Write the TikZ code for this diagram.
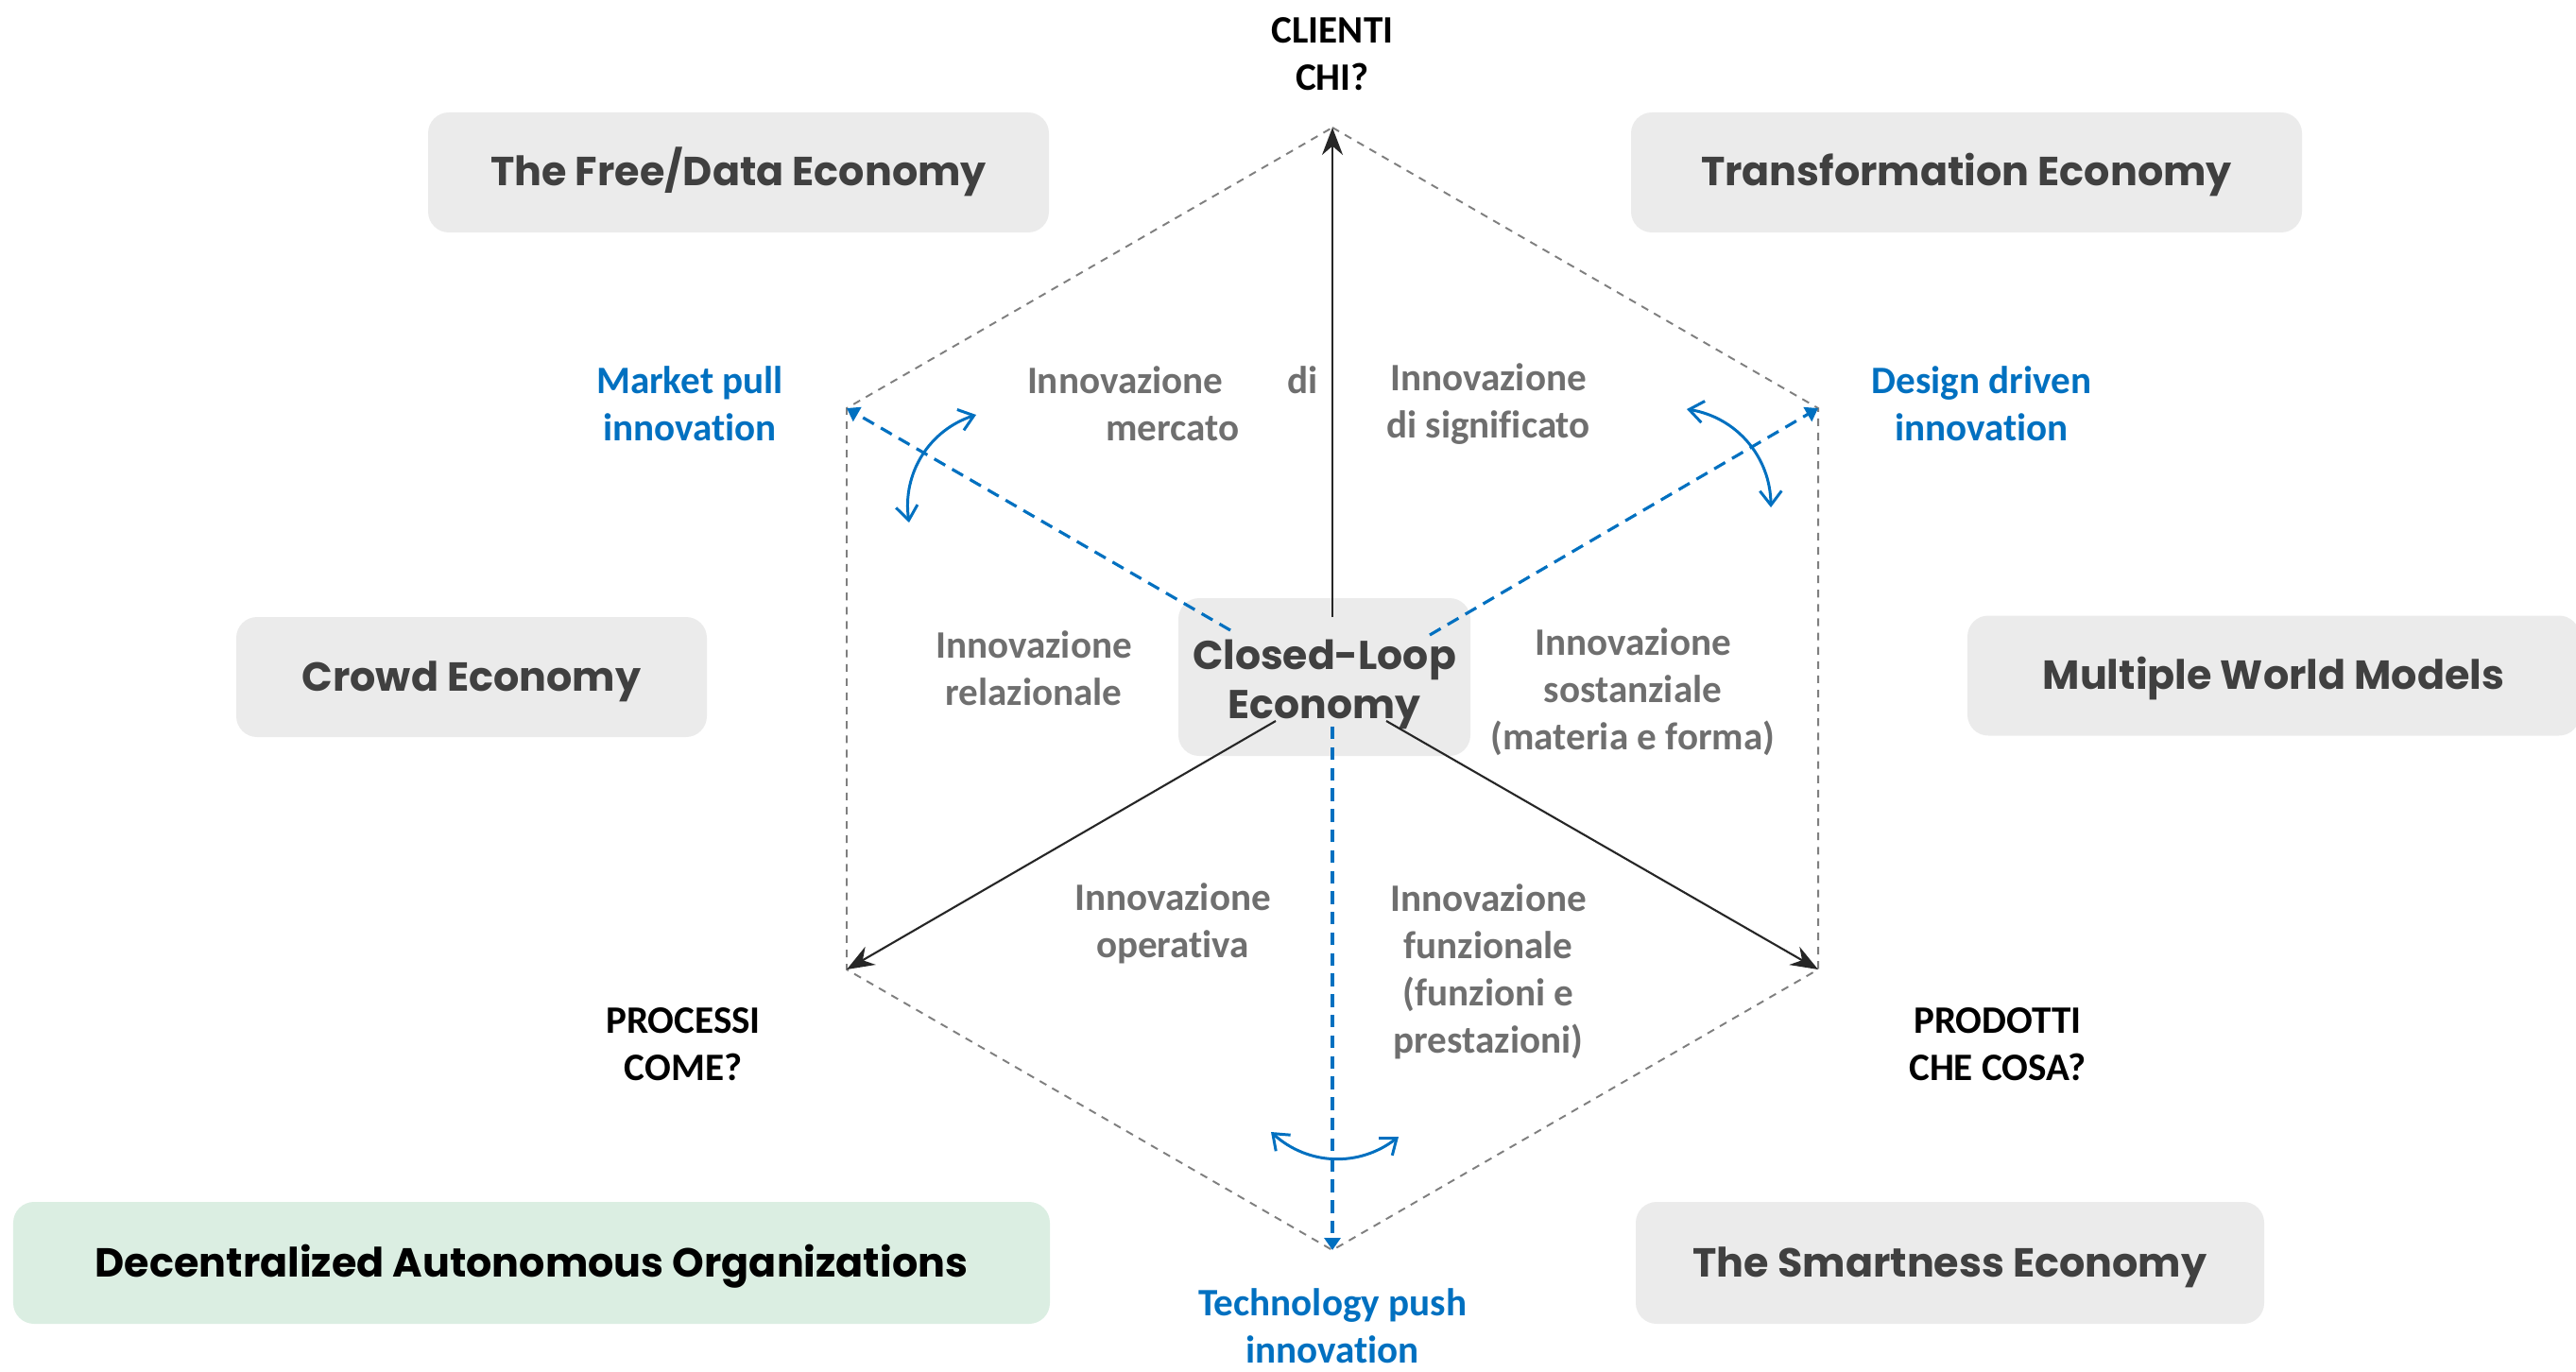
\documentclass[tikz,border=0pt]{standalone}
\usepackage{fontspec}
\setmainfont{Carlito}[Ligatures=NoCommon]
\newfontfamily\econfont{Poppins}
\usepackage{tikz}
\usetikzlibrary{arrows.meta}
\definecolor{econfill}{HTML}{EBEBEB}
\definecolor{daofill}{HTML}{DBEEE2}
\definecolor{econtext}{HTML}{404040}
\definecolor{innovgray}{HTML}{6F6F6F}
\definecolor{driveblue}{HTML}{0070C0}
\definecolor{hexgray}{HTML}{7F7F7F}
\definecolor{axisblack}{HTML}{262626}
\tikzset{
  econ/.style={fill=econfill, rounded corners=0.22cm, minimum height=1.27cm, text=econtext,
    text height=0.38cm, text depth=0.09cm,
    font=\econfont\bfseries\fontsize{12.2}{15}\selectfont},
  innov/.style={text=innovgray, align=center, font=\bfseries\fontsize{11.7}{14.2}\selectfont},
  axislbl/.style={text=black, align=center, font=\bfseries\fontsize{11.7}{14.2}\selectfont},
  drivelbl/.style={text=driveblue, align=center, font=\bfseries\fontsize{11.7}{14.2}\selectfont},
  hexedge/.style={hexgray, line width=0.55pt, dash pattern=on 2.3pt off 2pt},
  axisarrow/.style={axisblack, line width=0.6pt, -{Stealth[length=2.9mm,width=2.2mm]}},
  drivearrow/.style={driveblue, line width=0.9pt, dash pattern=on 3.8pt off 2.4pt,
    -{Triangle[length=1.3mm,width=1.7mm]}},
  swing/.style={driveblue, line width=0.85pt,
    {Straight Barb[length=1.5mm,width=2.3mm]}-{Straight Barb[length=1.5mm,width=2.3mm]}}
}
\begin{document}
\begin{tikzpicture}
	\useasboundingbox (0,0) rectangle (27.26,14.51);
	\node[econ, minimum width=6.57cm] (freedata) at (7.815,12.685) {The Free/Data Economy};
	\node[econ, minimum width=7.10cm] (transform) at (20.81,12.685) {Transformation Economy};
	\node[econ, minimum width=4.98cm] (crowd) at (4.99,7.345) {Crowd Economy};
	\node[econ, minimum width=6.48cm] (multiworld) at (24.06,7.36) {Multiple World Models};
	\node[econ, minimum width=10.97cm, minimum height=1.29cm, fill=daofill, text=black] (dao) at (5.625,1.145) {Decentralized Autonomous Organizations};
	\node[econ, minimum width=6.65cm, minimum height=1.29cm] (smart) at (20.635,1.145) {The Smartness Economy};
	\node[econ, minimum width=3.09cm, minimum height=1.67cm, align=center, text height=, text depth=, font=\econfont\bfseries\fontsize{12.1}{14.8}\selectfont] (closedloop) at (14.015,7.345) {\rule{0pt}{0.47cm}Closed-Loop\\Economy};
	\coordinate (T) at (14.10,13.16);
	\coordinate (UR) at (19.24,10.19);
	\coordinate (LR) at (19.24,4.25);
	\coordinate (B) at (14.10,1.28);
	\coordinate (LL) at (8.96,4.25);
	\coordinate (UL) at (8.96,10.19);
	\coordinate (sT) at (14.10,7.98);
	\coordinate (sLL) at (13.50,6.88);
	\coordinate (sLR) at (14.67,6.88);
	\coordinate (sUL) at (13.02,7.84);
	\coordinate (sUR) at (15.13,7.79);
	\coordinate (sB) at (14.10,6.82);
	\draw[hexedge] (T) -- (UR) -- (LR) -- (B) -- (LL) -- (UL) -- cycle;
	\draw[axisarrow] (sT) -- (T);
	\draw[axisarrow] (sLL) -- (LL);
	\draw[axisarrow] (sLR) -- (LR);
	\draw[drivearrow] (sUL) -- (UL);
	\draw[drivearrow] (sUR) -- (UR);
	\draw[drivearrow] (sB) -- (B);
	\coordinate (mp1) at (9.62,8.98);
	\coordinate (mp2) at (10.33,10.12);
	\coordinate (dd1) at (17.85,10.18);
	\coordinate (dd2) at (18.74,9.14);
	\coordinate (tp1) at (13.45,2.53);
	\coordinate (tp2) at (14.80,2.48);
	\draw[swing] (mp1) to[bend left=40] (mp2);
	\draw[swing] (dd1) to[bend left=40] (dd2);
	\draw[swing] (tp1) to[bend right=40] (tp2);
	\node[axislbl] (clienti) at (14.10,13.94) {CLIENTI\\CHI?};
	\node[axislbl] (processi) at (7.23,3.46) {PROCESSI\\COME?};
	\node[axislbl] (prodotti) at (21.14,3.46) {PRODOTTI\\CHE COSA?};
	\node[drivelbl] (marketpull) at (7.30,10.24) {Market pull\\innovation};
	\node[drivelbl] (designdriven) at (20.97,10.24) {Design driven\\innovation};
	\node[drivelbl] (techpush) at (14.10,0.48) {Technology push\\innovation};
	\node[innov] (mercato) at (12.41,10.24) {\makebox[3.08cm]{Innovazione\hfill di}\\mercato};
	\node[innov] (significato) at (15.75,10.23) {Innovazione\\di significato};
	\node[innov] (relazionale) at (10.94,7.44) {Innovazione\\relazionale};
	\node[innov] (sostanziale) at (17.28,7.19) {Innovazione\\sostanziale\\(materia e forma)};
	\node[innov] (operativa) at (12.41,4.74) {Innovazione\\operativa};
	\node[innov] (funzionale) at (15.75,4.23) {Innovazione\\funzionale\\(funzioni e\\prestazioni)};
\end{tikzpicture}
\end{document}
